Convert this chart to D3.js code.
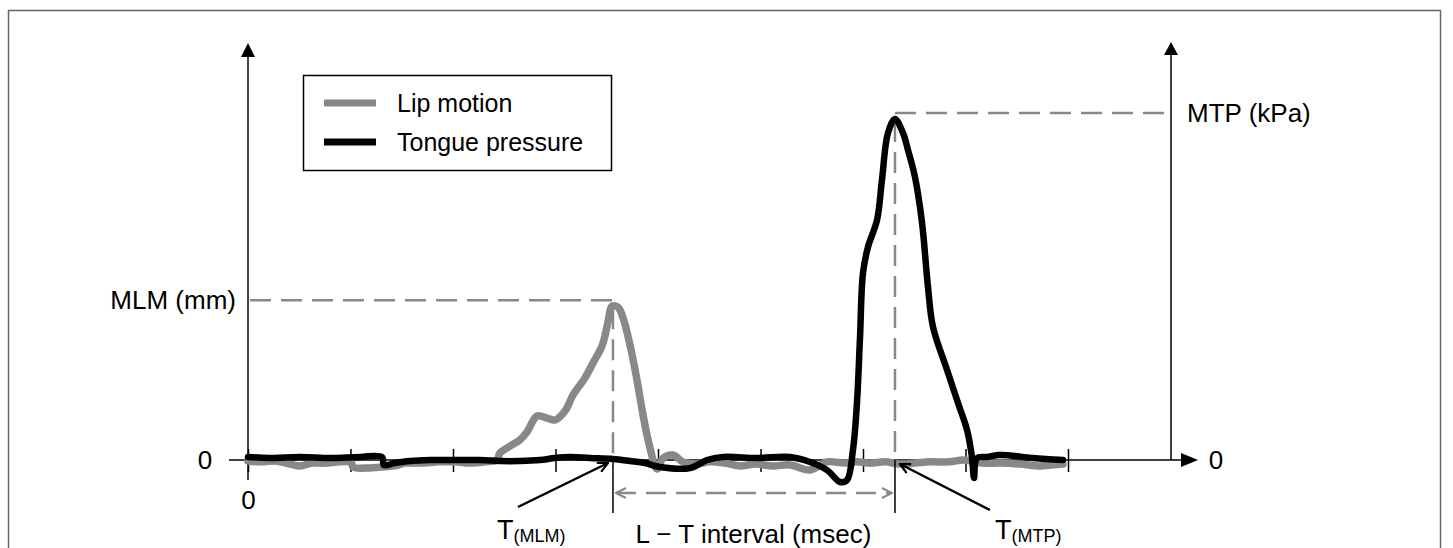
<!DOCTYPE html>
<html>
<head>
<meta charset="utf-8">
<script src="https://cdn.jsdelivr.net/npm/d3@7"></script>
<style>
  body { margin: 0; background: #fff; }
  svg { display: block; }
  text { font-family: "Liberation Sans", Arial, sans-serif; fill: #000; }
</style>
</head>
<body>
<div id="chart"></div>
<script>
// lip motion trace: time (ms) / displacement (mm)
const lipTime = [0, 13.7, 26.3, 41, 50.7, 62.4, 75.1, 89.8, 100.5, 102.4, 114.1, 128.8, 143.4, 153.2, 167.8, 187.3, 202, 216.6, 231.2, 242.9,
  245.9, 255.6, 265.4, 272.2, 282, 291.7, 299.5, 309.3, 317.1, 328.8, 336.6, 345.4, 351.2, 355.1, 361, 365.9, 372.7, 379.5, 385.4, 392.2,
  399, 404.9, 414.6, 424.4, 436.1, 450.7, 465.4, 480, 494.6, 512.2, 528.8, 548.3, 564.9, 582.4, 594.1, 606.8, 621.5, 636.1, 650.7, 665.4,
  684.9, 697.6, 717.1, 733.7, 753.2, 772.7, 784.4, 795.1];
const lipMM = [-0.03, -0.06, -0.03, -0.13, -0.19, -0.1, -0.1, -0.06, -0.06, -0.23, -0.26, -0.23, -0.19, -0.1, -0.1, -0.06, -0.06, -0.1, -0.06, 0,
  0.23, 0.45, 0.65, 0.9, 1.42, 1.35, 1.29, 1.58, 2.1, 2.65, 3.13, 3.68, 4.45, 4.96, 4.93, 4.58, 3.71, 2.58, 1.45, 0.39,
  -0.29, 0.06, 0.16, -0.06, -0.13, -0.06, -0.1, -0.19, -0.13, -0.19, -0.16, -0.32, -0.06, -0.1, -0.06, -0.1, -0.06, -0.13, -0.1, -0.06,
  -0.06, 0, -0.1, -0.1, -0.13, -0.19, -0.16, -0.13];

// tongue pressure trace: time (ms) / pressure (kPa)
const tongueTime = [0, 21.5, 50.7, 80, 109.3, 130.7, 132.7, 143.4, 158, 177.6, 202, 226.3, 245.9, 265.4, 284.9, 299.5, 314.1, 333.7, 356.1, 372.7,
  387.3, 402, 431.2, 447.8, 463.4, 496.6, 528.8, 548.3, 564.9, 577.6, 584.4, 590.2, 594.1, 597.1, 600, 604.9, 613.7, 618.5, 624.4, 631.2,
  639, 643.9, 650.7, 657.6, 663.4, 668.3, 682, 692.7, 701.5, 706.3, 708.3, 711.2, 721, 733.7, 765.9, 795.1];
const tongueKPa = [0.18, 0.12, 0.18, 0.12, 0.18, 0.18, -0.3, -0.18, -0.06, 0, 0, 0, -0.06, -0.06, 0, 0.12, 0.18, 0.12, 0.06, -0.06,
  -0.18, -0.42, -0.48, 0, 0.18, 0.12, 0.18, -0.12, -0.6, -1.31, -1.19, 0.6, 3.39, 7.33, 11.14, 12.69, 14.29, 16.68, 19.48, 20.31,
  19.48, 18.46, 16.86, 14.12, 10.3, 7.92, 5.36, 3.39, 1.79, 0.18, -1.07, 0.12, 0.18, 0.3, 0.12, 0];

const xTicks = [0, 100, 200, 300, 400, 500, 600, 700, 800];
const seriesNames = ["Lip motion", "Tongue pressure"];
const seriesColors = ["#888888", "#000000"];

const width = 1453, height = 548;

const svg = d3.select("#chart").append("svg")
  .attr("width", width)
  .attr("height", height);

// outer frame
svg.append("rect")
  .attr("x", 8.5).attr("y", 10.5)
  .attr("width", 1432).attr("height", 580)
  .attr("fill", "none").attr("stroke", "#666").attr("stroke-width", 1.5);

const x = d3.scaleLinear().domain([0, 800]).range([248, 1068]);
const yLip = d3.scaleLinear().domain([0, 13]).range([460, 57]);
const yTongue = d3.scaleLinear().domain([0, 24]).range([460, 57]);

const y0 = yLip(0);
const xLeft = x(0);
const xRight = x(900.5); // right axis

// markers
const defs = svg.append("defs");
defs.append("marker")
  .attr("id", "chevGray").attr("viewBox", "0 0 12 12")
  .attr("refX", 11).attr("refY", 6)
  .attr("markerWidth", 12).attr("markerHeight", 12)
  .attr("markerUnits", "userSpaceOnUse")
  .attr("orient", "auto-start-reverse")
  .append("path").attr("d", "M1,1 L11,6 L1,11")
  .attr("fill", "none").attr("stroke", "#888").attr("stroke-width", 2);
defs.append("marker")
  .attr("id", "chevBlack").attr("viewBox", "0 0 12 12")
  .attr("refX", 11).attr("refY", 6)
  .attr("markerWidth", 12).attr("markerHeight", 12)
  .attr("markerUnits", "userSpaceOnUse")
  .attr("orient", "auto")
  .append("path").attr("d", "M1,1 L11,6 L1,11")
  .attr("fill", "none").attr("stroke", "#000").attr("stroke-width", 2.2);

// left y axis
svg.append("line")
  .attr("x1", xLeft).attr("x2", xLeft)
  .attr("y1", y0 + 20).attr("y2", 56)
  .attr("stroke", "#444").attr("stroke-width", 2);
svg.append("path")
  .attr("d", `M${xLeft - 7},57 L${xLeft},43 L${xLeft + 7},57 Z`)
  .attr("fill", "#000");

// right y axis
svg.append("line")
  .attr("x1", xRight).attr("x2", xRight)
  .attr("y1", y0).attr("y2", 55)
  .attr("stroke", "#000").attr("stroke-width", 1.5);
svg.append("path")
  .attr("d", `M${xRight - 7},55 L${xRight},42 L${xRight + 7},55 Z`)
  .attr("fill", "#000");

// x axis line + arrow
svg.append("line")
  .attr("x1", xLeft - 19).attr("x2", xRight + 12)
  .attr("y1", y0).attr("y2", y0)
  .attr("stroke", "#000").attr("stroke-width", 1.5);
svg.append("path")
  .attr("d", `M${xRight + 10},${y0 - 7} L${xRight + 27},${y0} L${xRight + 10},${y0 + 7} Z`)
  .attr("fill", "#000");

// x ticks crossing the axis
const xAxis = svg.append("g")
  .attr("transform", `translate(0,${y0})`)
  .call(d3.axisBottom(x).tickValues(xTicks).tickSize(11).tickFormat(d => d === 0 ? "0" : ""));
xAxis.select(".domain").remove();
xAxis.selectAll(".tick line")
  .attr("y1", -11).attr("y2", 12)
  .attr("stroke", "#000").attr("stroke-width", 1.5);
xAxis.selectAll(".tick text")
  .attr("y", 49).attr("dy", null)
  .attr("font-size", 26)
  .attr("font-family", "Liberation Sans, Arial, sans-serif")
  .attr("fill", "#000");

// zero labels of the y axes
svg.append("text").attr("x", xLeft - 43).attr("y", y0 + 9)
  .attr("text-anchor", "middle").attr("font-size", 26).text("0");
svg.append("text").attr("x", xRight + 45).attr("y", y0 + 9)
  .attr("text-anchor", "middle").attr("font-size", 26).text("0");

// peaks
const iLip = d3.maxIndex(lipMM);
const iTongue = d3.maxIndex(tongueKPa);
const tMLM = lipTime[iLip], MLM = lipMM[iLip];
const tMTP = tongueTime[iTongue], MTP = tongueKPa[iTongue];

const guide = svg.append("g")
  .attr("fill", "none").attr("stroke", "#888")
  .attr("stroke-width", 2.5).attr("stroke-dasharray", "21,10");

// MLM guides
guide.append("line")
  .attr("x1", xLeft + 2).attr("x2", x(tMLM) + 2)
  .attr("y1", yLip(MLM) - 6).attr("y2", yLip(MLM) - 6);
guide.append("line")
  .attr("x1", x(tMLM) + 1).attr("x2", x(tMLM) + 1)
  .attr("y1", yLip(MLM) + 2).attr("y2", y0);
// MTP guides
guide.append("line")
  .attr("x1", x(tMTP)).attr("x2", xRight - 6)
  .attr("y1", yTongue(MTP) - 6).attr("y2", yTongue(MTP) - 6);
guide.append("line")
  .attr("x1", x(tMTP)).attr("x2", x(tMTP))
  .attr("y1", yTongue(MTP) + 2).attr("y2", y0);

// traces
const lipLine = d3.line()
  .x((d, i) => x(lipTime[i]))
  .y(d => yLip(d))
  .curve(d3.curveCatmullRom.alpha(0.5));
const tongueLine = d3.line()
  .x((d, i) => x(tongueTime[i]))
  .y(d => yTongue(d))
  .curve(d3.curveCatmullRom.alpha(0.5));

svg.append("path")
  .attr("d", lipLine(lipMM))
  .attr("fill", "none").attr("stroke", seriesColors[0])
  .attr("stroke-width", 7.5).attr("stroke-linejoin", "round").attr("stroke-linecap", "round");
svg.append("path")
  .attr("d", tongueLine(tongueKPa))
  .attr("fill", "none").attr("stroke", seriesColors[1])
  .attr("stroke-width", 6.5).attr("stroke-linejoin", "round").attr("stroke-linecap", "round");

// solid markers below baseline at the two peak times
[tMLM, tMTP].forEach((t, i) => {
  svg.append("line")
    .attr("x1", x(t) + (i === 0 ? 1 : 0)).attr("x2", x(t) + (i === 0 ? 1 : 0))
    .attr("y1", y0).attr("y2", y0 + 53)
    .attr("stroke", "#000").attr("stroke-width", 1.5);
});

// L - T interval arrow
svg.append("line")
  .attr("x1", x(tMLM) + 4).attr("x2", x(tMTP) - 3)
  .attr("y1", y0 + 33).attr("y2", y0 + 33)
  .attr("stroke", "#888").attr("stroke-width", 2.5)
  .attr("stroke-dasharray", "20,10")
  .attr("marker-start", "url(#chevGray)")
  .attr("marker-end", "url(#chevGray)");

// pointer arrows
svg.append("line")
  .attr("x1", x(tMLM) - 94).attr("y1", y0 + 47)
  .attr("x2", x(tMLM) - 4).attr("y2", y0 + 3)
  .attr("stroke", "#000").attr("stroke-width", 2.5)
  .attr("marker-end", "url(#chevBlack)");
svg.append("line")
  .attr("x1", x(tMTP) + 95).attr("y1", y0 + 50)
  .attr("x2", x(tMTP) + 5).attr("y2", y0 + 4)
  .attr("stroke", "#000").attr("stroke-width", 2.5)
  .attr("marker-end", "url(#chevBlack)");

// labels
svg.append("text")
  .attr("x", xLeft - 12).attr("y", yLip(MLM) + 3)
  .attr("text-anchor", "end").attr("font-size", 26)
  .text("MLM (mm)");
svg.append("text")
  .attr("x", xRight + 16).attr("y", yTongue(MTP) + 3)
  .attr("font-size", 26)
  .text("MTP (kPa)");

function tLabel(xPos, sub) {
  const t = svg.append("text").attr("x", xPos).attr("y", 539).attr("font-size", 27);
  t.append("tspan").text("T");
  t.append("tspan").attr("font-size", 18).attr("dy", 3).text(sub);
}
tLabel(x(tMLM) - 115, "(MLM)");
tLabel(x(tMTP) + 100, "(MTP)");

svg.append("text")
  .attr("x", (x(tMLM) + x(tMTP)) / 2).attr("y", 543)
  .attr("text-anchor", "middle").attr("font-size", 26)
  .text("L \u2212 T interval (msec)");

// legend
const legend = svg.append("g");
legend.append("rect")
  .attr("x", 303.5).attr("y", 75.5).attr("width", 308).attr("height", 95)
  .attr("fill", "#fff").attr("stroke", "#000").attr("stroke-width", 1.5);
seriesNames.forEach((name, i) => {
  const yy = 103 + i * 39;
  legend.append("line")
    .attr("x1", 324).attr("x2", 376).attr("y1", yy).attr("y2", yy)
    .attr("stroke", seriesColors[i]).attr("stroke-width", 7);
  legend.append("text")
    .attr("x", 397).attr("y", yy + 9)
    .attr("font-size", 25)
    .text(name);
});
</script>
</body>
</html>
